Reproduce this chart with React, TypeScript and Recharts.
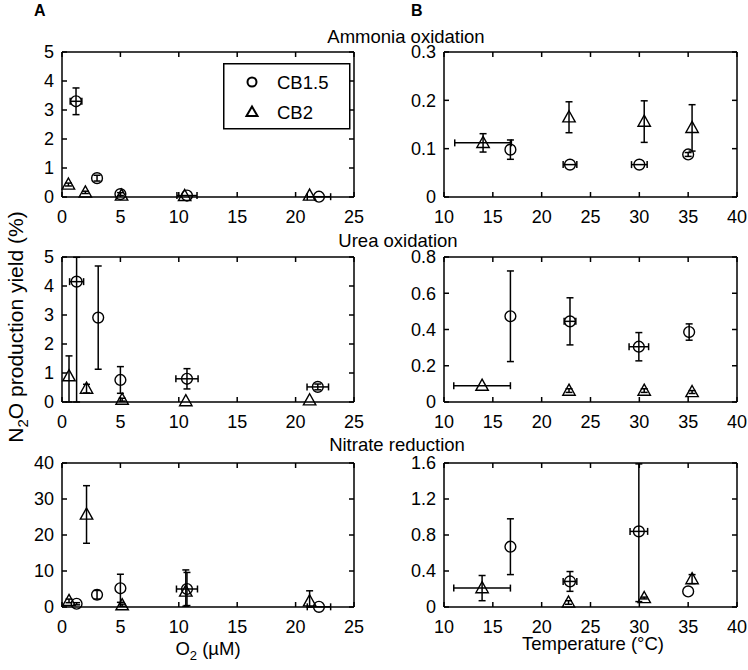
import React from "react";
import { ScatterChart, Scatter, XAxis, YAxis, ErrorBar } from "recharts";

// each point: [x, y, x error, y error]; y error may be [below, above]
type Pt = [number, number, number, number | [number, number]];

const o2Ticks = [0, 5, 10, 15, 20, 25];
const tempTicks = [10, 15, 20, 25, 30, 35, 40];
const rowTitles = ["Ammonia oxidation", "Urea oxidation", "Nitrate reduction"];
const seriesNames = ["CB1.5", "CB2"];

// Ammonia oxidation
const ammO2Cb15: Pt[] = [[1.2, 3.3, 0.5, 0.46], [3.0, 0.65, 0, 0.1], [5.0, 0.1, 0, 0.05], [10.7, 0.05, 0.86, 0], [22.0, 0.01, 1.0, 0]];
const ammO2Cb2: Pt[] = [[0.55, 0.43, 0, 0.05], [2.0, 0.16, 0, 0.04], [5.1, 0.05, 0, 0], [10.5, 0.04, 0, 0], [21.2, 0.05, 0, 0]];
const ammTCb15: Pt[] = [[16.8, 0.098, 0, 0.02], [22.9, 0.067, 0.7, 0], [30.0, 0.067, 0.8, 0], [35.0, 0.088, 0, 0.004]];
const ammTCb2: Pt[] = [[14.0, 0.112, 2.9, 0.019], [22.8, 0.165, 0, 0.032], [30.5, 0.156, 0, 0.043], [35.4, 0.143, 0, 0.048]];
const ammY = [0, 1, 2, 3, 4, 5];
const ammTY = [0, 0.1, 0.2, 0.3];

// Urea oxidation
const ureaO2Cb15: Pt[] = [[1.25, 4.15, 0.6, [4.15, 0.84]], [3.1, 2.91, 0, 1.78], [5.0, 0.76, 0, 0.46], [10.7, 0.8, 0.95, 0.35], [21.9, 0.52, 0.92, 0.1]];
const ureaO2Cb2: Pt[] = [[0.6, 0.89, 0, [0.89, 0.7]], [2.1, 0.46, 0, 0.15], [5.15, 0.08, 0, 0.05], [10.6, 0.03, 0, 0], [21.2, 0.06, 0, 0]];
const ureaTCb15: Pt[] = [[16.8, 0.473, 0, 0.25], [22.9, 0.445, 0.6, 0.13], [29.95, 0.305, 1.0, 0.078], [35.1, 0.386, 0, 0.045]];
const ureaTCb2: Pt[] = [[13.9, 0.09, 2.9, 0], [22.8, 0.063, 0, 0.01], [30.5, 0.063, 0, 0.01], [35.4, 0.055, 0, 0.008]];
const ureaY = [0, 1, 2, 3, 4, 5];
const ureaTY = [0, 0.2, 0.4, 0.6, 0.8];

// Nitrate reduction
const nitO2Cb15: Pt[] = [[1.25, 0.9, 0, 0.3], [3.0, 3.4, 0, 1.2], [5.0, 5.2, 0, 3.9], [10.7, 5.0, 0.9, 4.6], [22.0, 0.05, 1.0, 0]];
const nitO2Cb2: Pt[] = [[0.6, 1.7, 0, 0.5], [2.1, 25.7, 0, 8], [5.15, 0.5, 0, 0.3], [10.6, 4.3, 0, [4.1, 6.0]], [21.2, 1.6, 0, [1.6, 2.9]]];
const nitTCb15: Pt[] = [[16.8, 0.67, 0, 0.31], [22.9, 0.284, 0.7, 0.11], [29.95, 0.84, 0.9, [0.78, 0.75]], [35.0, 0.173, 0, 0]];
const nitTCb2: Pt[] = [[13.9, 0.21, 2.9, 0.14], [22.75, 0.05, 0, 0.02], [30.5, 0.1, 0, 0.01], [35.4, 0.31, 0, 0.05]];
const nitY = [0, 10, 20, 30, 40];
const nitTY = [0, 0.4, 0.8, 1.2, 1.6];

const FONT = '"Liberation Sans", Arial, sans-serif';
const toRows = (pts: Pt[]) => pts.map(([x, y, ex, ey]) => ({ x, y, ex, ey }));

const Circle = (p: any) => <circle cx={p.cx} cy={p.cy} r={5.4} fill="none" stroke="#000" strokeWidth={1.4} />;
const Tri = (p: any) => (
  <path d={`M${p.cx},${p.cy - 6.5}L${p.cx + 6.2},${p.cy + 4.6}L${p.cx - 6.2},${p.cy + 4.6}Z`} fill="none" stroke="#000" strokeWidth={1.4} />
);
const NoTick = () => <g />;

const line = { stroke: "#000", strokeWidth: 1.5 };
const tickFont = { fill: "#000", fontSize: 18, fontFamily: FONT };

interface PanelProps {
  left: number;
  top: number;
  w: number;
  h: number;
  xTicks: number[];
  yTicks: number[];
  cb15: Pt[];
  cb2: Pt[];
}

function Panel({ left, top, w, h, xTicks, yTicks, cb15, cb2 }: PanelProps) {
  const ML = 50, MT = 10, MR = 10, MB = 40;
  const xDom = [xTicks[0], xTicks[xTicks.length - 1]];
  const yDom = [yTicks[0], yTicks[yTicks.length - 1]];
  return (
    <div style={{ position: "absolute", left: left - ML, top: top - MT }}>
      <ScatterChart width={w + ML + MR} height={h + MT + MB} margin={{ top: MT - 1, right: MR - 1, left: 0, bottom: 0 }}>
        <XAxis type="number" dataKey="x" domain={xDom} ticks={xTicks} interval={0} height={MB}
          tickSize={-5} tickMargin={18} tick={tickFont} axisLine={line} tickLine={line} />
        <XAxis xAxisId="top" orientation="top" type="number" dataKey="x" domain={xDom} ticks={xTicks} interval={0}
          height={1} allowDataOverflow tickSize={-5} tick={NoTick} axisLine={line} tickLine={line} />
        <YAxis type="number" dataKey="y" domain={yDom} ticks={yTicks} interval={0} width={ML}
          tickSize={-5} tickMargin={13} tick={tickFont} axisLine={line} tickLine={line} />
        <YAxis yAxisId="right" orientation="right" type="number" dataKey="y" domain={yDom} ticks={yTicks} interval={0}
          width={1} allowDataOverflow tickSize={-5} tick={NoTick} axisLine={line} tickLine={line} />
        <Scatter name={seriesNames[0]} data={toRows(cb15)} shape={Circle} isAnimationActive={false}>
          <ErrorBar dataKey="ey" direction="y" width={3.5} stroke="#000" strokeWidth={1.5} />
          <ErrorBar dataKey="ex" direction="x" width={3.5} stroke="#000" strokeWidth={1.5} />
        </Scatter>
        <Scatter name={seriesNames[1]} data={toRows(cb2)} shape={Tri} isAnimationActive={false}>
          <ErrorBar dataKey="ey" direction="y" width={3.5} stroke="#000" strokeWidth={1.5} />
          <ErrorBar dataKey="ex" direction="x" width={3.5} stroke="#000" strokeWidth={1.5} />
        </Scatter>
      </ScatterChart>
    </div>
  );
}

export default function App() {
  const A = { left: 62, w: 292 };
  const B = { left: 444, w: 293 };
  const rows = [{ top: 52, h: 145 }, { top: 257, h: 145 }, { top: 463, h: 144 }];
  const titleX = [406, 398, 397];
  const titleY = [43, 247, 451];
  return (
    <div style={{ position: "absolute", left: 0, top: 0, width: 748, height: 670, fontFamily: FONT, background: "#fff" }}>
      <Panel {...A} {...rows[0]} xTicks={o2Ticks} yTicks={ammY} cb15={ammO2Cb15} cb2={ammO2Cb2} />
      <Panel {...B} {...rows[0]} xTicks={tempTicks} yTicks={ammTY} cb15={ammTCb15} cb2={ammTCb2} />
      <Panel {...A} {...rows[1]} xTicks={o2Ticks} yTicks={ureaY} cb15={ureaO2Cb15} cb2={ureaO2Cb2} />
      <Panel {...B} {...rows[1]} xTicks={tempTicks} yTicks={ureaTY} cb15={ureaTCb15} cb2={ureaTCb2} />
      <Panel {...A} {...rows[2]} xTicks={o2Ticks} yTicks={nitY} cb15={nitO2Cb15} cb2={nitO2Cb2} />
      <Panel {...B} {...rows[2]} xTicks={tempTicks} yTicks={nitTY} cb15={nitTCb15} cb2={nitTCb2} />

      <svg width={748} height={670} style={{ position: "absolute", left: 0, top: 0, pointerEvents: "none" }} fontFamily={FONT}>
        <text x={34} y={16} fontSize={16} fontWeight="bold">A</text>
        <text x={411} y={16} fontSize={16} fontWeight="bold">B</text>
        {rowTitles.map((t, i) => (
          <text key={t} x={titleX[i]} y={titleY[i]} fontSize={18.5} textAnchor="middle">{t}</text>
        ))}
        <text transform="translate(23,327) rotate(-90)" fontSize={21} textAnchor="middle">
          N<tspan dy={5} fontSize={15}>2</tspan><tspan dy={-5}>O production yield (%)</tspan>
        </text>
        <text x={208} y={655} fontSize={18.5} textAnchor="middle">
          O<tspan dy={5} fontSize={13}>2</tspan><tspan dy={-5}> (µM)</tspan>
        </text>
        <text x={593} y={650} fontSize={18.5} textAnchor="middle">Temperature (°C)</text>

        {/* legend */}
        <rect x={223.75} y={63.75} width={126} height={65} fill="#fff" stroke="#000" strokeWidth={1.5} />
        <circle cx={252} cy={82} r={4.5} fill="none" stroke="#000" strokeWidth={2} />
        <path d="M252,106.5L257.5,116L246.5,116Z" fill="none" stroke="#000" strokeWidth={2} />
        <text x={277} y={88.5} fontSize={18.5}>{seriesNames[0]}</text>
        <text x={277} y={118.5} fontSize={18.5}>{seriesNames[1]}</text>
      </svg>
    </div>
  );
}
